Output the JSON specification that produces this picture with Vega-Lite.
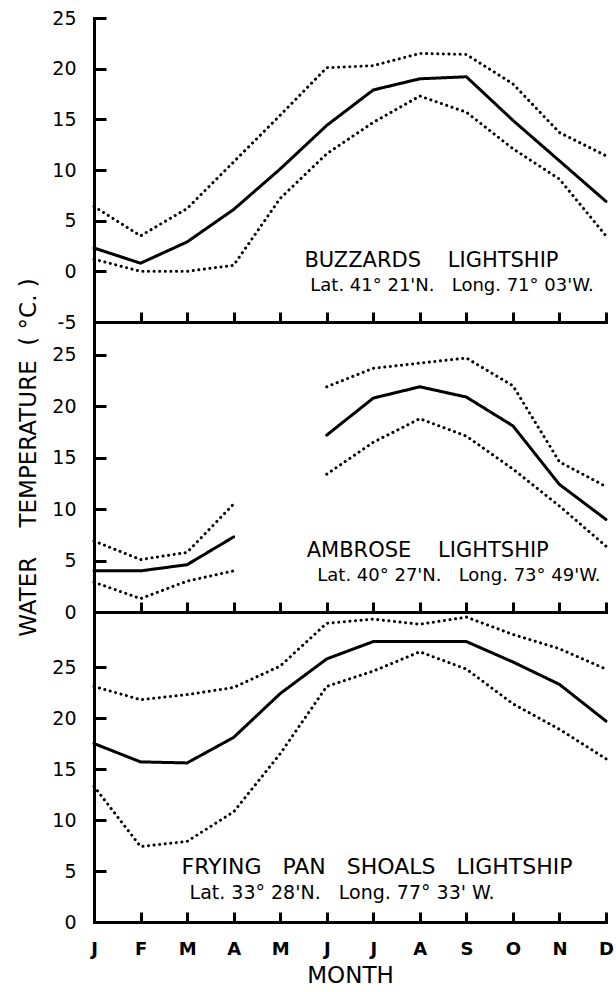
{
  "$schema": "https://vega.github.io/schema/vega-lite/v6.json",
  "background": "white",
  "padding": {"left": 16, "top": 9, "right": 4, "bottom": 4},
  "spacing": 0,
  "bounds": "flush",
  "datasets": {
    "temps": [
      {"station": "Buzzards", "series": "mean", "month": 1, "temp": 2.3},
      {"station": "Buzzards", "series": "mean", "month": 2, "temp": 0.8},
      {"station": "Buzzards", "series": "mean", "month": 3, "temp": 2.9},
      {"station": "Buzzards", "series": "mean", "month": 4, "temp": 6.1},
      {"station": "Buzzards", "series": "mean", "month": 5, "temp": 10.1},
      {"station": "Buzzards", "series": "mean", "month": 6, "temp": 14.4},
      {"station": "Buzzards", "series": "mean", "month": 7, "temp": 17.9},
      {"station": "Buzzards", "series": "mean", "month": 8, "temp": 19.0},
      {"station": "Buzzards", "series": "mean", "month": 9, "temp": 19.2},
      {"station": "Buzzards", "series": "mean", "month": 10, "temp": 14.9},
      {"station": "Buzzards", "series": "mean", "month": 11, "temp": 10.9},
      {"station": "Buzzards", "series": "mean", "month": 12, "temp": 6.9},
      {"station": "Buzzards", "series": "max", "month": 1, "temp": 6.4},
      {"station": "Buzzards", "series": "max", "month": 2, "temp": 3.5},
      {"station": "Buzzards", "series": "max", "month": 3, "temp": 6.2},
      {"station": "Buzzards", "series": "max", "month": 4, "temp": 10.8},
      {"station": "Buzzards", "series": "max", "month": 5, "temp": 15.4},
      {"station": "Buzzards", "series": "max", "month": 6, "temp": 20.1},
      {"station": "Buzzards", "series": "max", "month": 7, "temp": 20.3},
      {"station": "Buzzards", "series": "max", "month": 8, "temp": 21.5},
      {"station": "Buzzards", "series": "max", "month": 9, "temp": 21.4},
      {"station": "Buzzards", "series": "max", "month": 10, "temp": 18.5},
      {"station": "Buzzards", "series": "max", "month": 11, "temp": 13.7},
      {"station": "Buzzards", "series": "max", "month": 12, "temp": 11.4},
      {"station": "Buzzards", "series": "min", "month": 1, "temp": 1.2},
      {"station": "Buzzards", "series": "min", "month": 2, "temp": 0.0},
      {"station": "Buzzards", "series": "min", "month": 3, "temp": 0.0},
      {"station": "Buzzards", "series": "min", "month": 4, "temp": 0.6},
      {"station": "Buzzards", "series": "min", "month": 5, "temp": 7.2},
      {"station": "Buzzards", "series": "min", "month": 6, "temp": 11.6},
      {"station": "Buzzards", "series": "min", "month": 7, "temp": 14.7},
      {"station": "Buzzards", "series": "min", "month": 8, "temp": 17.3},
      {"station": "Buzzards", "series": "min", "month": 9, "temp": 15.7},
      {"station": "Buzzards", "series": "min", "month": 10, "temp": 12.1},
      {"station": "Buzzards", "series": "min", "month": 11, "temp": 9.1},
      {"station": "Buzzards", "series": "min", "month": 12, "temp": 3.5},
      {"station": "Ambrose", "series": "mean", "month": 1, "temp": 4.0},
      {"station": "Ambrose", "series": "mean", "month": 2, "temp": 4.0},
      {"station": "Ambrose", "series": "mean", "month": 3, "temp": 4.6},
      {"station": "Ambrose", "series": "mean", "month": 4, "temp": 7.3},
      {"station": "Ambrose", "series": "mean", "month": 5, "temp": null},
      {"station": "Ambrose", "series": "mean", "month": 6, "temp": 17.2},
      {"station": "Ambrose", "series": "mean", "month": 7, "temp": 20.8},
      {"station": "Ambrose", "series": "mean", "month": 8, "temp": 21.9},
      {"station": "Ambrose", "series": "mean", "month": 9, "temp": 20.9},
      {"station": "Ambrose", "series": "mean", "month": 10, "temp": 18.1},
      {"station": "Ambrose", "series": "mean", "month": 11, "temp": 12.4},
      {"station": "Ambrose", "series": "mean", "month": 12, "temp": 9.0},
      {"station": "Ambrose", "series": "max", "month": 1, "temp": 6.9},
      {"station": "Ambrose", "series": "max", "month": 2, "temp": 5.1},
      {"station": "Ambrose", "series": "max", "month": 3, "temp": 5.8},
      {"station": "Ambrose", "series": "max", "month": 4, "temp": 10.5},
      {"station": "Ambrose", "series": "max", "month": 5, "temp": null},
      {"station": "Ambrose", "series": "max", "month": 6, "temp": 21.9},
      {"station": "Ambrose", "series": "max", "month": 7, "temp": 23.7},
      {"station": "Ambrose", "series": "max", "month": 8, "temp": 24.2},
      {"station": "Ambrose", "series": "max", "month": 9, "temp": 24.7},
      {"station": "Ambrose", "series": "max", "month": 10, "temp": 22.0},
      {"station": "Ambrose", "series": "max", "month": 11, "temp": 14.6},
      {"station": "Ambrose", "series": "max", "month": 12, "temp": 12.2},
      {"station": "Ambrose", "series": "min", "month": 1, "temp": 2.9},
      {"station": "Ambrose", "series": "min", "month": 2, "temp": 1.3},
      {"station": "Ambrose", "series": "min", "month": 3, "temp": 3.0},
      {"station": "Ambrose", "series": "min", "month": 4, "temp": 4.0},
      {"station": "Ambrose", "series": "min", "month": 5, "temp": null},
      {"station": "Ambrose", "series": "min", "month": 6, "temp": 13.4},
      {"station": "Ambrose", "series": "min", "month": 7, "temp": 16.5},
      {"station": "Ambrose", "series": "min", "month": 8, "temp": 18.8},
      {"station": "Ambrose", "series": "min", "month": 9, "temp": 17.1},
      {"station": "Ambrose", "series": "min", "month": 10, "temp": 13.9},
      {"station": "Ambrose", "series": "min", "month": 11, "temp": 10.3},
      {"station": "Ambrose", "series": "min", "month": 12, "temp": 6.4},
      {"station": "FryingPan", "series": "mean", "month": 1, "temp": 17.5},
      {"station": "FryingPan", "series": "mean", "month": 2, "temp": 15.7},
      {"station": "FryingPan", "series": "mean", "month": 3, "temp": 15.6},
      {"station": "FryingPan", "series": "mean", "month": 4, "temp": 18.1},
      {"station": "FryingPan", "series": "mean", "month": 5, "temp": 22.4},
      {"station": "FryingPan", "series": "mean", "month": 6, "temp": 25.8},
      {"station": "FryingPan", "series": "mean", "month": 7, "temp": 27.5},
      {"station": "FryingPan", "series": "mean", "month": 8, "temp": 27.5},
      {"station": "FryingPan", "series": "mean", "month": 9, "temp": 27.5},
      {"station": "FryingPan", "series": "mean", "month": 10, "temp": 25.5},
      {"station": "FryingPan", "series": "mean", "month": 11, "temp": 23.3},
      {"station": "FryingPan", "series": "mean", "month": 12, "temp": 19.7},
      {"station": "FryingPan", "series": "max", "month": 1, "temp": 23.1},
      {"station": "FryingPan", "series": "max", "month": 2, "temp": 21.8},
      {"station": "FryingPan", "series": "max", "month": 3, "temp": 22.3},
      {"station": "FryingPan", "series": "max", "month": 4, "temp": 23.0},
      {"station": "FryingPan", "series": "max", "month": 5, "temp": 25.1},
      {"station": "FryingPan", "series": "max", "month": 6, "temp": 29.3},
      {"station": "FryingPan", "series": "max", "month": 7, "temp": 29.7},
      {"station": "FryingPan", "series": "max", "month": 8, "temp": 29.2},
      {"station": "FryingPan", "series": "max", "month": 9, "temp": 29.9},
      {"station": "FryingPan", "series": "max", "month": 10, "temp": 28.2},
      {"station": "FryingPan", "series": "max", "month": 11, "temp": 26.8},
      {"station": "FryingPan", "series": "max", "month": 12, "temp": 24.8},
      {"station": "FryingPan", "series": "min", "month": 1, "temp": 13.3},
      {"station": "FryingPan", "series": "min", "month": 2, "temp": 7.4},
      {"station": "FryingPan", "series": "min", "month": 3, "temp": 7.9},
      {"station": "FryingPan", "series": "min", "month": 4, "temp": 10.8},
      {"station": "FryingPan", "series": "min", "month": 5, "temp": 16.5},
      {"station": "FryingPan", "series": "min", "month": 6, "temp": 23.1},
      {"station": "FryingPan", "series": "min", "month": 7, "temp": 24.6},
      {"station": "FryingPan", "series": "min", "month": 8, "temp": 26.5},
      {"station": "FryingPan", "series": "min", "month": 9, "temp": 24.8},
      {"station": "FryingPan", "series": "min", "month": 10, "temp": 21.4},
      {"station": "FryingPan", "series": "min", "month": 11, "temp": 18.9},
      {"station": "FryingPan", "series": "min", "month": 12, "temp": 16.0}
    ]
  },
  "vconcat": [
    {
      "width": 512,
      "height": 304,
      "layer": [
        {
          "data": {"name": "temps"},
          "transform": [{"filter": "datum.station === 'Buzzards'"}],
          "mark": {"type": "line", "color": "black", "strokeWidth": 3, "strokeCap": "round", "invalid": "break-paths-show-domains"},
          "encoding": {
            "x": {"field": "month", "type": "quantitative", "scale": {"domain": [1, 12], "nice": false, "zero": false},
                  "axis": {"values": [1,2,3,4,5,6,7,8,9,10,11,12], "labels": false, "title": null, "tickSize": -10}},
            "y": {"field": "temp", "type": "quantitative", "scale": {"domain": [-5, 25], "nice": false, "zero": false},
                  "axis": {"values": [-5,0,5,10,15,20,25], "title": null, "tickSize": -12, "labelPadding": 30, "labelExpr": "'' + datum.value"}},
            "strokeDash": {"field": "series", "type": "nominal", "scale": {"domain": ["mean", "max", "min"], "range": [[1, 0], [0.1, 5.5], [0.1, 5.5]]}, "legend": null}
          }
        },
        {
          "data": {"values": [{}]},
          "mark": {"type": "text", "text": "BUZZARDS\u00a0\u00a0\u00a0\u00a0LIGHTSHIP", "fontSize": 21, "align": "center", "baseline": "alphabetic"},
          "encoding": {"x": {"datum": 8.25}, "y": {"datum": 0.43}}
        },
        {
          "data": {"values": [{}]},
          "mark": {"type": "text", "text": "Lat. 41° 21'N.\u00a0\u00a0\u00a0Long. 71° 03'W.", "fontSize": 18, "align": "center", "baseline": "alphabetic"},
          "encoding": {"x": {"datum": 8.69}, "y": {"datum": -1.94}}
        }
      ]
    },
    {
      "width": 512,
      "height": 290,
      "layer": [
        {
          "data": {"name": "temps"},
          "transform": [{"filter": "datum.station === 'Ambrose'"}],
          "mark": {"type": "line", "color": "black", "strokeWidth": 3, "strokeCap": "round", "invalid": "break-paths-show-domains"},
          "encoding": {
            "x": {"field": "month", "type": "quantitative", "scale": {"domain": [1, 12], "nice": false, "zero": false},
                  "axis": {"values": [1,2,3,4,5,6,7,8,9,10,11,12], "labels": false, "title": null, "tickSize": -10}},
            "y": {"field": "temp", "type": "quantitative", "scale": {"domain": [0, 28.2], "nice": false, "zero": false},
                  "axis": {"values": [0,5,10,15,20,25], "tickSize": -12, "labelPadding": 30,
                           "title": "WATER\u00a0\u00a0\u00a0\u00a0TEMPERATURE\u00a0\u00a0(\u00a0°C.\u00a0)", "titleFontSize": 23, "titleFontWeight": "normal",
                           "titleAngle": -90, "titleAlign": "center", "titleBaseline": "middle", "titleX": -66, "titleY": 135}},
            "strokeDash": {"field": "series", "type": "nominal", "scale": {"domain": ["mean", "max", "min"], "range": [[1, 0], [0.1, 5.5], [0.1, 5.5]]}, "legend": null}
          }
        },
        {
          "data": {"values": [{}]},
          "mark": {"type": "text", "text": "AMBROSE\u00a0\u00a0\u00a0\u00a0LIGHTSHIP", "fontSize": 21, "align": "center", "baseline": "alphabetic"},
          "encoding": {"x": {"datum": 8.17}, "y": {"datum": 5.35}}
        },
        {
          "data": {"values": [{}]},
          "mark": {"type": "text", "text": "Lat. 40° 27'N.\u00a0\u00a0\u00a0Long. 73° 49'W.", "fontSize": 18, "align": "center", "baseline": "alphabetic"},
          "encoding": {"x": {"datum": 8.84}, "y": {"datum": 3.0}}
        }
      ]
    },
    {
      "width": 512,
      "height": 310,
      "layer": [
        {
          "data": {"name": "temps"},
          "transform": [{"filter": "datum.station === 'FryingPan'"}],
          "mark": {"type": "line", "color": "black", "strokeWidth": 3, "strokeCap": "round", "invalid": "break-paths-show-domains"},
          "encoding": {
            "x": {"field": "month", "type": "quantitative", "scale": {"domain": [1, 12], "nice": false, "zero": false},
                  "axis": {"values": [1,2,3,4,5,6,7,8,9,10,11,12], "tickSize": -10, "labelPadding": 28,
                           "labelExpr": "['J','F','M','A','M','J','J','A','S','O','N','D'][datum.value - 1]",
                           "labelFontWeight": "bold", "labelFontSize": 18,
                           "title": "MONTH", "titleFontSize": 23, "titleFontWeight": "normal", "titlePadding": 6}},
            "y": {"field": "temp", "type": "quantitative", "scale": {"domain": [0, 30.4], "nice": false, "zero": false},
                  "axis": {"values": [0,5,10,15,20,25], "title": null, "tickSize": -12, "labelPadding": 30}},
            "strokeDash": {"field": "series", "type": "nominal", "scale": {"domain": ["mean", "max", "min"], "range": [[1, 0], [0.1, 5.5], [0.1, 5.5]]}, "legend": null}
          }
        },
        {
          "data": {"values": [{}]},
          "mark": {"type": "text", "text": "FRYING\u00a0\u00a0\u00a0PAN\u00a0\u00a0\u00a0SHOALS\u00a0\u00a0\u00a0LIGHTSHIP", "fontSize": 22, "align": "center", "baseline": "alphabetic"},
          "encoding": {"x": {"datum": 7.08}, "y": {"datum": 4.7}}
        },
        {
          "data": {"values": [{}]},
          "mark": {"type": "text", "text": "Lat. 33° 28'N.\u00a0\u00a0\u00a0Long. 77° 33' W.", "fontSize": 19, "align": "center", "baseline": "alphabetic"},
          "encoding": {"x": {"datum": 6.33}, "y": {"datum": 2.25}}
        }
      ]
    }
  ],
  "config": {
    "view": {"stroke": null},
    "font": "DejaVu Sans",
    "axis": {
      "domainColor": "#000", "domainWidth": 3, "domainCap": "square",
      "tickColor": "#000", "tickWidth": 3, "grid": false,
      "labelColor": "#000", "labelFont": "DejaVu Sans", "labelFontSize": 19,
      "labelOverlap": false, "labelFlush": false,
      "titleColor": "#000", "titleFont": "DejaVu Sans"
    },
    "text": {"font": "DejaVu Sans", "color": "#000"}
  }
}
